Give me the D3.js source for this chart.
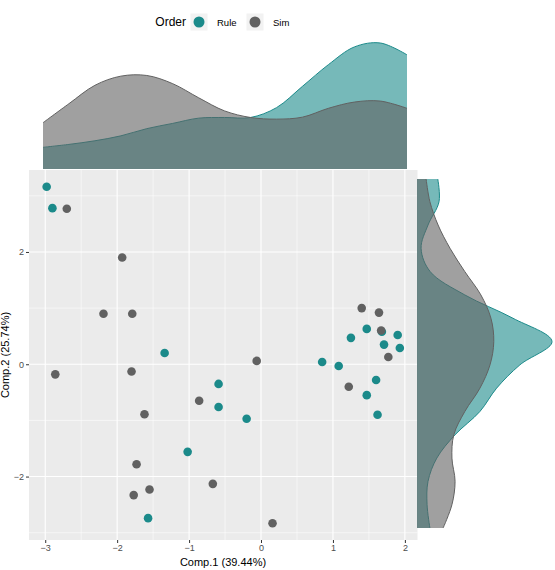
<!DOCTYPE html>
<html>
<head>
<meta charset="utf-8">
<script src="https://cdn.jsdelivr.net/npm/d3@7"></script>
<style>
  body { margin: 0; background: #fff; }
  text { font-family: "Liberation Sans", Arial, sans-serif; }
</style>
</head>
<body>
<svg id="chart" width="555" height="570"></svg>
<script>
// data
var groups = ["Rule", "Sim"];
var groupColors = ["#1b8a8a", "#616161"];

var ruleX = [-2.98, -2.90, -1.34, -0.59, -0.59, -0.20, -1.02, -1.57, 0.85, 1.08,
             1.25, 1.47, 1.68, 1.71, 1.90, 1.93, 1.60, 1.47, 1.62];
var ruleY = [3.16, 2.78, 0.20, -0.35, -0.76, -0.97, -1.56, -2.74, 0.04, -0.03,
             0.47, 0.63, 0.58, 0.35, 0.52, 0.29, -0.28, -0.55, -0.90];
var simX = [-2.70, -1.93, -2.19, -1.79, -2.86, -1.80, -1.62, -1.73, -1.55, -1.77,
            -0.86, -0.67, 0.16, -0.06, 1.40, 1.64, 1.67, 1.77, 1.22];
var simY = [2.77, 1.90, 0.90, 0.90, -0.18, -0.13, -0.89, -1.78, -2.23, -2.33,
            -0.65, -2.13, -2.83, 0.06, 1.00, 0.92, 0.60, 0.13, -0.40];

// marginal densities
var topGridX = [-2.98, -2.63, -2.28, -1.93, -1.58, -1.23, -0.88, -0.53, -0.18,
                0.17, 0.52, 0.87, 1.22, 1.57, 1.93];
var ruleDensX = [0.066, 0.075, 0.086, 0.101, 0.123, 0.139, 0.155, 0.157, 0.157,
                 0.187, 0.252, 0.318, 0.372, 0.384, 0.348];
var simDensX = [0.141, 0.199, 0.255, 0.283, 0.285, 0.260, 0.217, 0.177, 0.157,
                0.152, 0.158, 0.185, 0.204, 0.207, 0.185];

var rightGridY = [-2.83, -2.43, -2.03, -1.63, -1.23, -0.83, -0.43, -0.03, 0.37,
                  0.77, 1.17, 1.57, 1.97, 2.37, 2.77, 3.16];
var ruleDensY = [0.041, 0.032, 0.035, 0.063, 0.121, 0.200, 0.253, 0.327, 0.429,
                 0.305, 0.152, 0.042, 0.013, 0.035, 0.070, 0.066];
var simDensY = [0.083, 0.111, 0.121, 0.111, 0.117, 0.152, 0.200, 0.232, 0.244,
                0.235, 0.203, 0.152, 0.105, 0.067, 0.041, 0.029];

var xTicks = [-3, -2, -1, 0, 1, 2];
var yTicks = [-2, 0, 2];
var xMinor = [-2.5, -1.5, -0.5, 0.5, 1.5];
var yMinor = [-3, -1, 1, 3];

var xTitle = "Comp.1 (39.44%)";
var yTitle = "Comp.2 (25.74%)";
var legendTitle = "Order";

(function () {
    var svg = d3.select("#chart");
    var series = [
        { name: groups[0], color: groupColors[0], x: ruleX, y: ruleY, dx: ruleDensX, dy: ruleDensY },
        { name: groups[1], color: groupColors[1], x: simX, y: simY, dx: simDensX, dy: simDensY }
    ];
    var xExt = d3.extent(ruleX.concat(simX)), yExt = d3.extent(ruleY.concat(simY));
    var xPad = (xExt[1] - xExt[0]) * 0.05, yPad = (yExt[1] - yExt[0]) * 0.05;

    var x = d3.scaleLinear().domain([xExt[0] - xPad, xExt[1] + xPad]).range([29, 417.5]);
    var y = d3.scaleLinear().domain([yExt[0] - yPad, yExt[1] + yPad]).range([540, 170]);

    // panel + grid
    svg.append("rect").attr("x", 29).attr("y", 170)
        .attr("width", 388.5).attr("height", 370).attr("fill", "#ebebeb");
    var grid = svg.append("g");
    function vline(v, w) {
        grid.append("line").attr("x1", x(v)).attr("x2", x(v)).attr("y1", 170).attr("y2", 540)
            .attr("stroke", "#fff").attr("stroke-width", w);
    }
    function hline(v, w) {
        grid.append("line").attr("y1", y(v)).attr("y2", y(v)).attr("x1", 29).attr("x2", 417.5)
            .attr("stroke", "#fff").attr("stroke-width", w);
    }
    xMinor.forEach(v => vline(v, 0.55));
    yMinor.forEach(v => hline(v, 0.55));
    xTicks.forEach(v => vline(v, 1.1));
    yTicks.forEach(v => hline(v, 1.1));

    // axes
    var fmt = d3.format("d");
    var xAxis = svg.append("g").attr("transform", "translate(0,540)")
        .call(d3.axisBottom(x).tickValues(xTicks).tickFormat(fmt).tickSizeOuter(0).tickSize(3).tickPadding(2));
    var yAxis = svg.append("g").attr("transform", "translate(29,0)")
        .call(d3.axisLeft(y).tickValues(yTicks).tickFormat(fmt).tickSizeOuter(0).tickSize(3).tickPadding(2));
    [xAxis, yAxis].forEach(function (a) {
        a.select(".domain").remove();
        a.selectAll(".tick line").attr("stroke", "#333").attr("stroke-width", 1);
        a.selectAll(".tick text").attr("fill", "#4d4d4d").attr("font-size", 9)
            .style("font-family", "Liberation Sans, Arial, sans-serif");
    });

    // points
    series.forEach(function (s) {
        svg.append("g").selectAll("circle").data(d3.range(s.x.length)).join("circle")
            .attr("cx", i => x(s.x[i])).attr("cy", i => y(s.y[i]))
            .attr("r", 4.3).attr("fill", s.color);
    });

    var smooth = d3.curveCatmullRom.alpha(0.5);

    // top marginal density
    var topMax = d3.max(series, s => d3.max(s.dx));
    var mx = d3.scaleLinear().domain(d3.extent(topGridX)).range([43, 407]);
    var my = d3.scaleLinear().domain([0, topMax]).range([169, 43]);
    series.forEach(function (s) {
        var pts = topGridX.map((v, i) => [v, s.dx[i]]);
        svg.append("path").datum(pts)
            .attr("d", d3.area().curve(smooth).x(p => mx(p[0])).y0(my(0)).y1(p => my(p[1])))
            .attr("fill", s.color).attr("fill-opacity", 0.6);
        svg.append("path").datum(pts)
            .attr("d", d3.line().curve(smooth).x(p => mx(p[0])).y(p => my(p[1])))
            .attr("fill", "none").attr("stroke", s.color).attr("stroke-width", 1);
    });

    // right marginal density
    var rightMax = d3.max(series, s => d3.max(s.dy));
    var ry = d3.scaleLinear().domain(d3.extent(rightGridY)).range([528, 179]);
    var rx = d3.scaleLinear().domain([0, rightMax]).range([417, 552]);
    series.forEach(function (s) {
        var pts = rightGridY.map((v, i) => [v, s.dy[i]]);
        svg.append("path").datum(pts)
            .attr("d", d3.area().curve(smooth).y(p => ry(p[0])).x0(rx(0)).x1(p => rx(p[1])))
            .attr("fill", s.color).attr("fill-opacity", 0.6);
        svg.append("path").datum(pts)
            .attr("d", d3.line().curve(smooth).y(p => ry(p[0])).x(p => rx(p[1])))
            .attr("fill", "none").attr("stroke", s.color).attr("stroke-width", 1);
    });

    // titles
    svg.append("text").attr("x", 223).attr("y", 566).attr("text-anchor", "middle")
        .attr("font-size", 11).attr("fill", "#000").text(xTitle);
    svg.append("text").attr("transform", "translate(9,355) rotate(-90)")
        .attr("text-anchor", "middle").attr("font-size", 11).attr("fill", "#000").text(yTitle);

    // legend
    var leg = svg.append("g");
    leg.append("text").attr("x", 186).attr("y", 26).attr("text-anchor", "end")
        .attr("font-size", 12).attr("fill", "#000").text(legendTitle);
    var keyX = [199, 255];
    series.forEach(function (s, k) {
        leg.append("rect").attr("x", keyX[k] - 8.5).attr("y", 13.5).attr("width", 17).attr("height", 17)
            .attr("fill", "#f2f2f2");
        leg.append("circle").attr("cx", keyX[k]).attr("cy", 22).attr("r", 5.5).attr("fill", s.color);
        leg.append("text").attr("x", keyX[k] + 18).attr("y", 25.5)
            .attr("font-size", 9.5).attr("fill", "#000").text(s.name);
    });
})();
</script>
</body>
</html>
